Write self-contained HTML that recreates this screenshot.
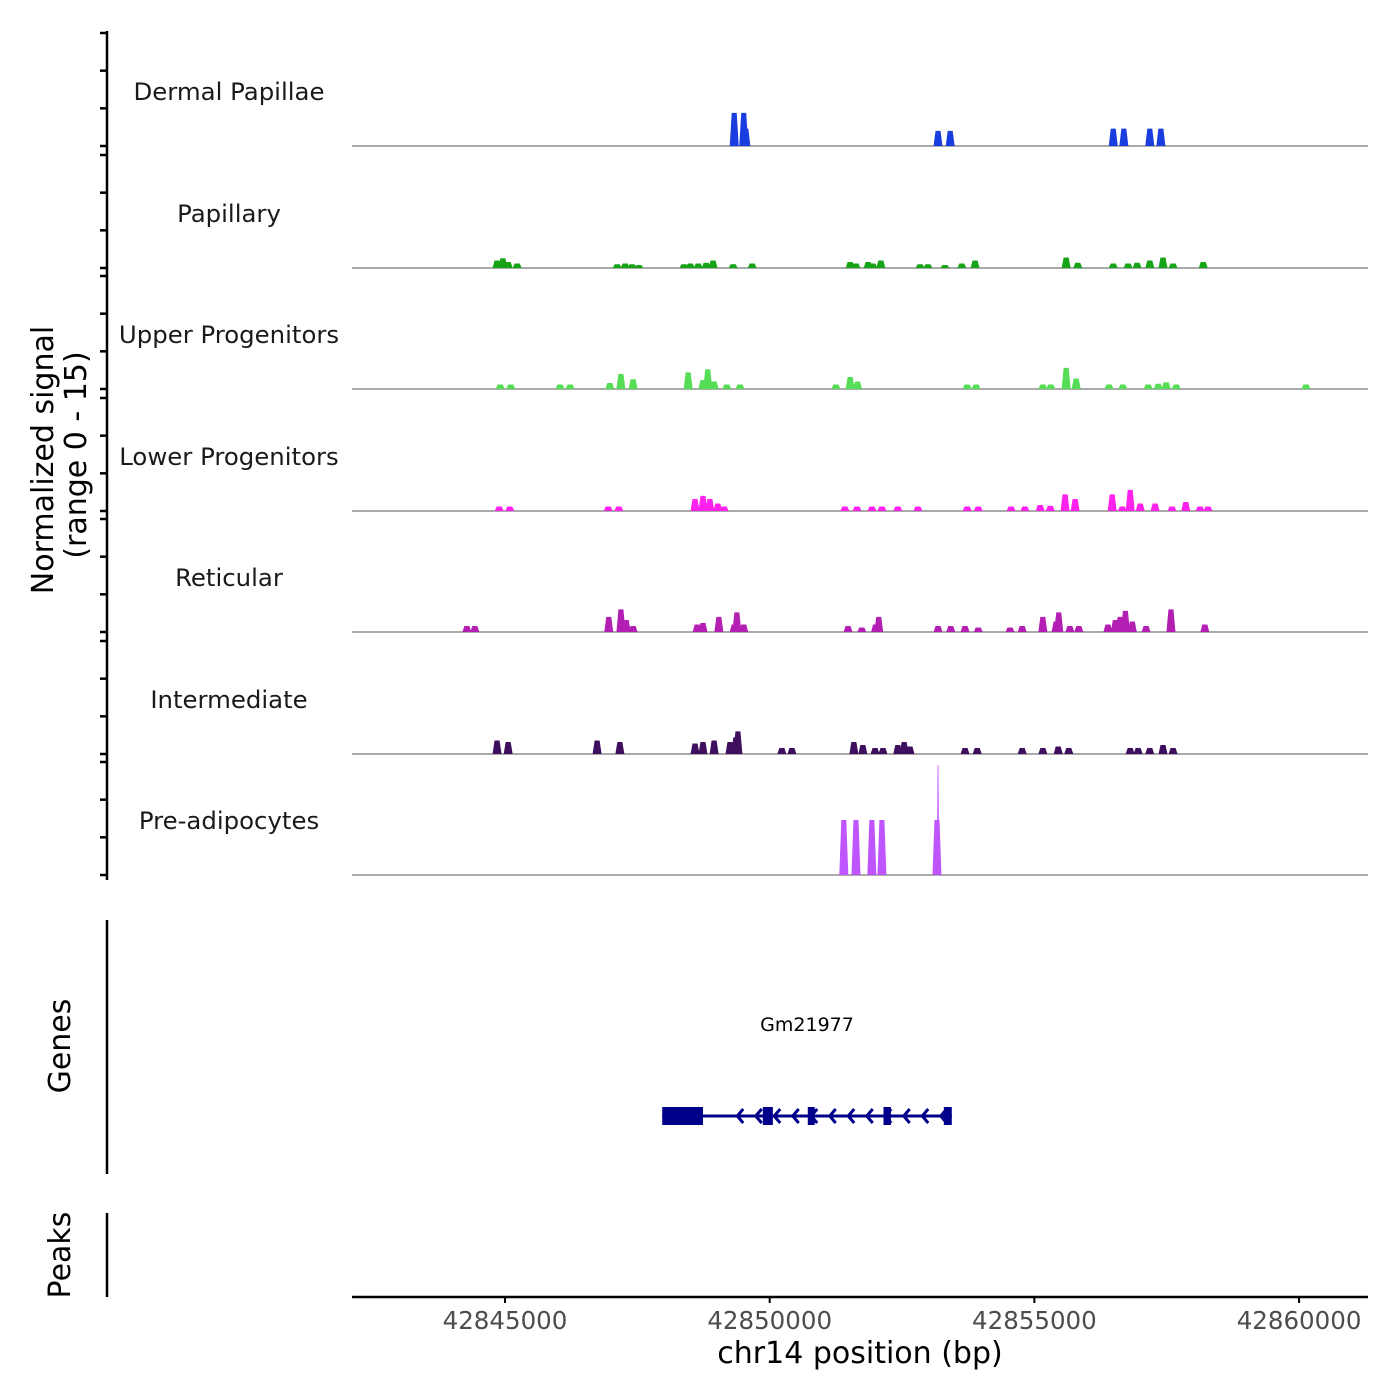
<!DOCTYPE html>
<html><head><meta charset="utf-8"><style>
body{margin:0;background:#fff}
svg{display:block;font-family:"DejaVu Sans","Liberation Sans",sans-serif}
</style></head><body>
<svg id="c" width="1400" height="1400" viewBox="0 0 1400 1400"></svg>
<script>
const trackNames=["Dermal Papillae","Papillary","Upper Progenitors","Lower Progenitors","Reticular","Intermediate","Pre-adipocytes"];
const trackColors=["#1a3de0","#16a416","#55dd55","#ff22ee","#b31fb3","#3d0f5e","#bf55ff"];
const axisTicks=[42845000,42850000,42855000,42860000];
const tickLabels=["42845000","42850000","42855000","42860000"];
const pos0=[42849330,42849510,42849550,42853180,42853410,42856490,42856690,42857180,42857390];
const val0=[4.4,4.4,2.3,2.0,2.0,2.3,2.3,2.3,2.3];
const pos1=[42844850,42844960,42845060,42845230,42847120,42847270,42847400,42847530,42848380,42848500,42848650,42848800,42848930,42849310,42849670,42851520,42851630,42851860,42851950,42852100,42852840,42852990,42853310,42853630,42853880,42855600,42855820,42856490,42856770,42856940,42857180,42857430,42857620,42858190];
const val1=[1,1.3,0.8,0.6,0.5,0.6,0.5,0.4,0.5,0.6,0.6,0.7,1.0,0.5,0.6,0.8,0.6,0.8,0.6,1.0,0.5,0.5,0.4,0.6,1.0,1.4,0.7,0.6,0.6,0.7,1.0,1.4,0.6,0.8];
const pos2=[42844910,42845110,42846040,42846230,42846980,42847190,42847420,42848460,42848740,42848830,42848950,42849190,42849440,42851250,42851520,42851660,42853730,42853900,42855160,42855310,42855600,42855790,42856410,42856670,42857150,42857340,42857490,42857680,42860130];
const val2=[0.6,0.6,0.6,0.6,0.8,2.0,1.3,2.2,1.2,2.6,1.0,0.6,0.6,0.6,1.6,1.0,0.6,0.6,0.6,0.6,2.8,1.4,0.6,0.6,0.6,0.7,0.9,0.6,0.6];
const pos3=[42844890,42845090,42846950,42847150,42848590,42848740,42848870,42849020,42849140,42851420,42851650,42851930,42852120,42852420,42852800,42853730,42853940,42854560,42854820,42855110,42855300,42855580,42855770,42856470,42856660,42856810,42857000,42857280,42857600,42857860,42858130,42858280];
const val3=[0.6,0.6,0.6,0.6,1.6,2.0,1.6,1.0,0.6,0.6,0.6,0.6,0.6,0.6,0.6,0.6,0.6,0.6,0.6,0.8,0.7,2.2,1.6,2.2,0.6,2.8,1.0,1.0,0.6,1.2,0.6,0.6];
const pos4=[42844280,42844430,42846960,42847190,42847290,42847420,42848630,42848740,42849040,42849330,42849380,42849510,42851480,42851740,42852000,42852060,42853180,42853420,42853690,42853940,42854540,42854770,42855160,42855410,42855460,42855670,42855840,42856390,42856530,42856620,42856720,42856850,42857110,42857580,42858220];
const val4=[0.8,0.8,2.0,3.0,1.6,0.8,1.0,1.2,2.0,1.0,2.6,1.0,0.8,0.6,1.0,2.0,0.8,0.8,0.8,0.6,0.6,0.8,2.0,1.4,2.6,0.8,0.8,1.0,1.6,2.0,2.8,1.4,0.8,3.0,1.0];
const pos5=[42844850,42845060,42846740,42847170,42848590,42848740,42848950,42849250,42849360,42849400,42850230,42850420,42851590,42851760,42851990,42852140,42852420,42852540,42852650,42853690,42853920,42854770,42855160,42855450,42855650,42856810,42856960,42857180,42857430,42857620];
const val5=[1.8,1.6,1.8,1.6,1.4,1.6,1.8,1.6,2.2,3.0,0.8,0.8,1.6,1.2,0.8,0.8,1.2,1.6,1.0,0.8,0.8,0.8,0.8,1.0,0.8,0.8,0.8,0.8,1.2,0.8];
const pos6=[42851400,42851630,42851930,42852120,42853160];
const val6=[7.3,7.3,7.3,7.3,7.3];
const spikePos=[42853180];
const spikeVal=[14.6];
const exonStart=[42847970,42849870,42850720,42852150,42853290];
const exonEnd=[42848740,42850060,42850850,42852290,42853440];
const geneStart=42847970, geneEnd=42853440;

const positions=[pos0,pos1,pos2,pos3,pos4,pos5,pos6];
const values=[val0,val1,val2,val3,val4,val5,val6];
const svg=document.getElementById('c');
const NS='http://www.w3.org/2000/svg';
function mk(tag,a,parent){const e=document.createElementNS(NS,tag);for(const k in a)e.setAttribute(k,a[k]);(parent||svg).appendChild(e);return e;}
const X0=352,X1=1368;
const bp0=42842110,bpPerPx=18.89;
function xs(bp){return X0+(bp-bp0)/bpPerPx;}
const baselines=[146,268,389,511,632,754,875];
const PH=113;
function ys(v,i){return baselines[i]-v/15*PH;}

let e=mk('line',{x1:107,y1:31,x2:107,y2:880,stroke:'#000','stroke-width':2.5});

for(let i=0;i<7;i++){
  for(let k=0;k<4;k++){
    const y=ys(k*5,i);
    e=mk('line',{x1:100,y1:y,x2:107,y2:y,stroke:'#000','stroke-width':2.5});
    
  }
}
e=mk('text',{x:0,y:0,'font-size':30,'text-anchor':'middle',transform:'translate(53,460) rotate(-90)'});

e.textContent='Normalized signal';
e=mk('text',{x:0,y:0,'font-size':30,'text-anchor':'middle',transform:'translate(86,455) rotate(-90)'});

e.textContent='(range 0 - 15)';

for(let i=0;i<7;i++){
  const g=mk('g',{});
  
  
  const t=mk('text',{x:229,y:baselines[i]-46,'font-size':24.4,'text-anchor':'middle',fill:'#1a1a1a'},g);
  
  t.textContent=trackNames[i];
  const bl=mk('line',{x1:X0,y1:baselines[i],x2:X1,y2:baselines[i],stroke:'#777','stroke-width':1.2},g);
  
  const P=positions[i],V=values[i];
  for(let j=0;j<P.length;j++){
    const xc=xs(P[j]),y=ys(V[j],i),b=baselines[i];
    const p=mk('polygon',{points:`${xc-4.5},${b} ${xc-2.5},${y} ${xc+2.5},${y} ${xc+4.5},${b}`,fill:trackColors[i]},g);
    
  }
  if(i===6){
    for(let j=0;j<spikePos.length;j++){
      const xc=xs(spikePos[j]);
      const p=mk('polygon',{points:`${xc-1.2},${baselines[i]} ${xc-0.4},${ys(spikeVal[j],i)} ${xc+0.4},${ys(spikeVal[j],i)} ${xc+1.2},${baselines[i]}`,fill:trackColors[i]},g);
      
    }
  }
}

e=mk('line',{x1:107,y1:920,x2:107,y2:1174,stroke:'#000','stroke-width':2.5});

e=mk('text',{x:0,y:0,'font-size':30,'text-anchor':'middle',transform:'translate(70,1046) rotate(-90)'});

e.textContent='Genes';
const gg=mk('g',{});
e=mk('text',{x:807,y:1031,'font-size':19,'text-anchor':'middle',fill:'#000'},gg);

e.textContent='Gm21977';
e=mk('line',{x1:xs(geneStart),y1:1116,x2:xs(geneEnd),y2:1116,stroke:'#00008b','stroke-width':3},gg);

for(let j=0;j<exonStart.length;j++){
  e=mk('rect',{x:xs(exonStart[j]),y:1107,width:xs(exonEnd[j])-xs(exonStart[j]),height:18,fill:'#00008b'},gg);
  
}
for(let x=xs(geneStart)+75;x<xs(geneEnd)-5;x+=18.5){
  e=mk('polyline',{points:`${x+6},${1109} ${x},${1116} ${x+6},${1123}`,fill:'none',stroke:'#00008b','stroke-width':3},gg);
  
}

e=mk('line',{x1:107,y1:1213,x2:107,y2:1297,stroke:'#000','stroke-width':2.5});

e=mk('text',{x:0,y:0,'font-size':30,'text-anchor':'middle',transform:'translate(70,1255) rotate(-90)'});

e.textContent='Peaks';

e=mk('line',{x1:X0,y1:1297,x2:X1,y2:1297,stroke:'#000','stroke-width':2.5});

for(let k=0;k<axisTicks.length;k++){
  const x=xs(axisTicks[k]);
  e=mk('line',{x1:x,y1:1297,x2:x,y2:1303,stroke:'#000','stroke-width':2});
  
  e=mk('text',{x:x,y:1329,'font-size':24.5,'text-anchor':'middle',fill:'#4d4d4d'});
  
  e.textContent=tickLabels[k];
}
e=mk('text',{x:860,y:1363,'font-size':30,'text-anchor':'middle',fill:'#000'});

e.textContent='chr14 position (bp)';
</script>
</body></html>
